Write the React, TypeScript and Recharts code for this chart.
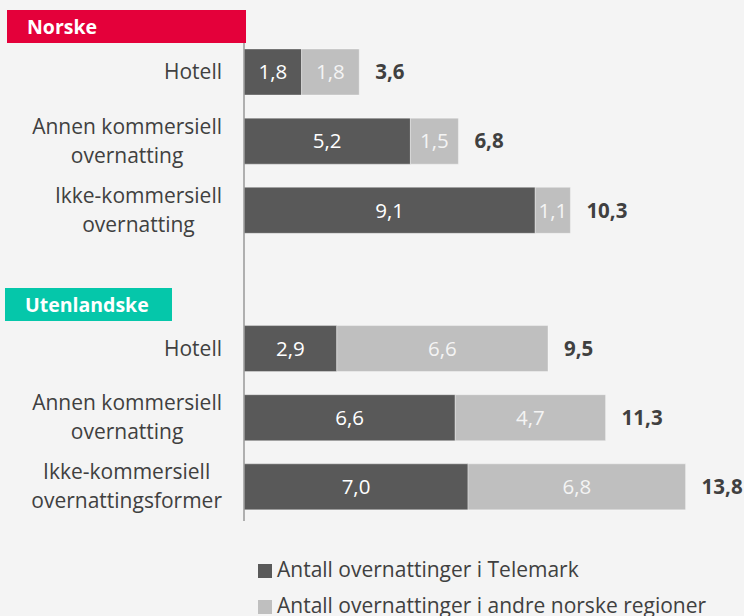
import { Bar, BarChart, LabelList, Legend, XAxis, YAxis } from "recharts";

// rows top to bottom; the empty row is the gap between the two groups
const categories = [
  "Hotell",
  "Annen kommersiell\novernatting",
  "Ikke-kommersiell\novernatting",
  "",
  "Hotell",
  "Annen kommersiell\novernatting",
  "Ikke-kommersiell\novernattingsformer",
];
const telemark = [1.8, 5.2, 9.1, null, 2.9, 6.6, 7.0];
const andreRegioner = [1.8, 1.5, 1.1, null, 6.6, 4.7, 6.8];
const totals = [3.6, 6.8, 10.3, null, 9.5, 11.3, 13.8];

const groups = [
  { label: "Norske", color: "#e4003a", top: 10, width: 239, left: 7 },
  { label: "Utenlandske", color: "#05c7aa", top: 288, width: 167, left: 5 },
];

const FONT = "'Open Sans', sans-serif";
const DARK = "#595959";
const LIGHT = "#bfbfbf";
const TEXT = "#404040";
const SIZE = 21;

const data = categories.map((_, i) => ({
  id: i,
  telemark: telemark[i],
  andre: andreRegioner[i],
  total: totals[i],
}));

const fmt = (v: unknown) =>
  v == null || v === "" ? "" : Number(v).toFixed(1).replace(".", ",");

let ctx: CanvasRenderingContext2D | null = null;
function textWidth(s: string, font: string) {
  if (!ctx) ctx = document.createElement("canvas").getContext("2d");
  if (!ctx) return s.length * 11;
  ctx.font = font;
  return ctx.measureText(s).width;
}

function CategoryTick({ x, y, payload }: any) {
  /** right-aligned block of centre-aligned lines, like the Excel axis labels */
  const label = categories[payload.value] ?? "";
  if (!label) return null;
  const lines = label.split("\n");
  const lineH = 29;
  const maxW = Math.max(
    ...lines.map((l) => textWidth(l, `${SIZE}px 'Open Sans'`))
  );
  const cx = x - 14 - maxW / 2;
  const capH = SIZE * 0.714;
  const y0 = y + capH / 2 - ((lines.length - 1) * lineH) / 2;
  return (
    <text fill={TEXT} fontSize={SIZE} fontFamily={FONT} textAnchor="middle">
      {lines.map((l, i) => (
        <tspan key={i} x={cx} y={y0 + i * lineH}>
          {l}
        </tspan>
      ))}
    </text>
  );
}

function LegendRows({ payload }: any) {
  return (
    <div style={{ fontFamily: FONT, fontSize: SIZE, color: TEXT }}>
      {(payload ?? []).map((p: any) => (
        <div
          key={p.value}
          style={{ display: "flex", alignItems: "center", height: 36 }}
        >
          <span
            style={{
              display: "inline-block",
              width: 14,
              height: 14,
              background: p.color,
              marginRight: 5,
              marginTop: 3,
            }}
          />
          {p.value}
        </div>
      ))}
    </div>
  );
}

export default function App() {
  return (
    <div
      style={{
        position: "absolute",
        left: 0,
        top: 0,
        width: 744,
        height: 616,
        background: "#f4f4f4",
        overflow: "hidden",
      }}
    >
      <BarChart
        width={744}
        height={616}
        data={data}
        layout="vertical"
        margin={{ top: 37, right: 20, bottom: 95, left: 0 }}
        barSize={46}
      >
        <XAxis type="number" domain={[0, 15]} hide />
        <YAxis
          type="category"
          dataKey="id"
          width={244}
          tickLine={false}
          axisLine={{ stroke: "#999999", strokeWidth: 1.5 }}
          tick={<CategoryTick />}
          interval={0}
        />
        <Legend
          layout="vertical"
          align="center"
          verticalAlign="middle"
          wrapperStyle={{ left: 258, top: 551, width: 486 }}
          content={<LegendRows />}
        />
        <Bar
          dataKey="telemark"
          name="Antall overnattinger i Telemark"
          stackId="a"
          fill={DARK}
          stroke="#ffffff"
          strokeOpacity={0.35}
          isAnimationActive={false}
        >
          <LabelList
            dataKey="telemark"
            position="center"
            fill="#ffffff"
            fontSize={20.5}
            fontFamily={FONT}
            formatter={fmt}
          />
        </Bar>
        <Bar
          dataKey="andre"
          name="Antall overnattinger i andre norske regioner"
          stackId="a"
          fill={LIGHT}
          stroke="#ffffff"
          strokeOpacity={0.35}
          isAnimationActive={false}
        >
          <LabelList
            dataKey="andre"
            position="center"
            fill="#f4f4f4"
            fontSize={20.5}
            fontFamily={FONT}
            formatter={fmt}
          />
          <LabelList
            dataKey="total"
            position="right"
            offset={16}
            fill={TEXT}
            fontSize={20.5}
            fontWeight={700}
            fontFamily={FONT}
            formatter={fmt}
          />
        </Bar>
      </BarChart>
      {groups.map((g) => (
        <div
          key={g.label}
          style={{
            position: "absolute",
            left: g.left,
            top: g.top,
            width: g.width,
            height: 33,
            background: g.color,
            color: "#ffffff",
            fontFamily: FONT,
            fontWeight: 700,
            fontSize: 19.5,
            lineHeight: "33px",
            paddingLeft: 20,
            boxSizing: "border-box",
          }}
        >
          {g.label}
        </div>
      ))}
    </div>
  );
}
